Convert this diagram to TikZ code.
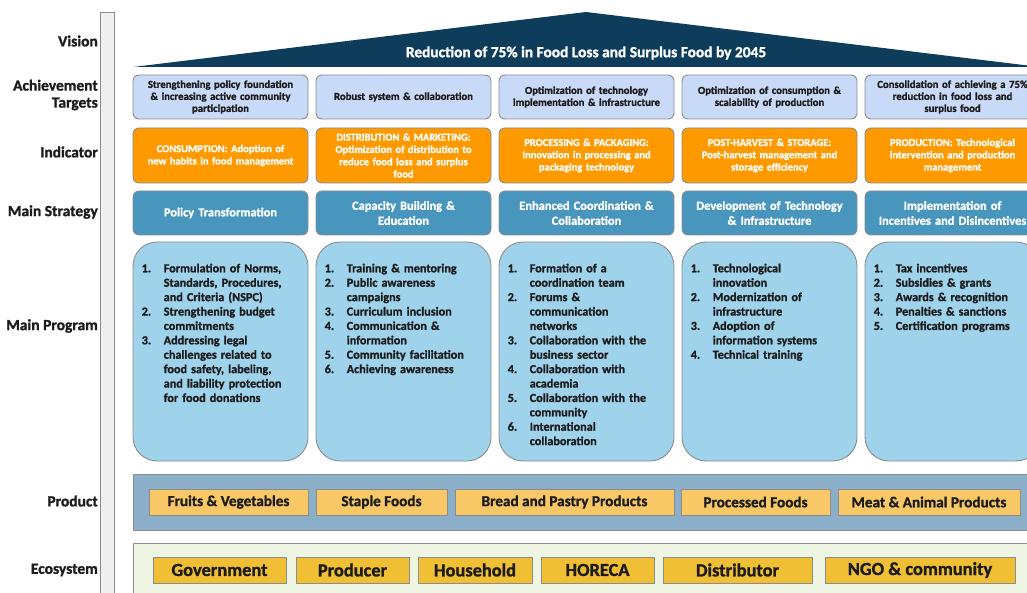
\documentclass[tikz,border=0pt]{standalone}
\usepackage{fontspec}
\setmainfont{Carlito}[BoldFeatures={FakeBold=1.3}]
\usetikzlibrary{positioning}
\definecolor{roofnavy}{HTML}{0E3D5C}
\definecolor{targetblue}{HTML}{C9DAF8}
\definecolor{indorange}{HTML}{FF9900}
\definecolor{stratblue}{HTML}{4896BE}
\definecolor{progblue}{HTML}{9FD3EC}
\definecolor{prodband}{HTML}{8BAFC9}
\definecolor{prodyellow}{HTML}{F9C866}
\definecolor{ecoband}{HTML}{EEF5E3}
\definecolor{ecoyellow}{HTML}{F1BF33}
\definecolor{barg}{HTML}{EFEFEF}
\definecolor{edgeg}{HTML}{8C8C8C}
\definecolor{inkdark}{HTML}{1C1C1C}
\tikzset{
  lbl/.style={anchor=east, align=right, inner sep=0pt, text=inkdark,
    font=\fontsize{15.5}{17}\selectfont\bfseries},
  target/.style={draw=edgeg, fill=targetblue, rounded corners=6pt, line width=0.9pt,
    minimum width=175pt, minimum height=44pt, text width=172pt, align=center,
    inner sep=0pt, text=inkdark, font=\fontsize{10.7}{12}\selectfont\bfseries},
  indic/.style={target, fill=indorange, minimum height=55pt, text=white,
    font=\fontsize{10.5}{12.3}\selectfont\bfseries},
  strat/.style={target, fill=stratblue, text=white,
    font=\fontsize{12.4}{15}\selectfont\bfseries},
  progbox/.style={draw=edgeg, fill=progblue, rounded corners=24pt, line width=0.9pt,
    minimum width=175pt, minimum height=219pt, inner sep=0pt},
  progtext/.style={anchor=north west, inner sep=0pt, text width=160pt, align=left,
    text=inkdark, font=\fontsize{12.2}{14.4}\selectfont\bfseries},
  prod/.style={draw=edgeg, fill=prodyellow, line width=0.9pt, minimum height=26pt,
    inner sep=0pt, text=inkdark, font=\fontsize{15.2}{16}\selectfont\bfseries},
  eco/.style={prod, fill=ecoyellow, font=\fontsize{18.4}{19}\selectfont\bfseries},
}
\newcommand{\pitem}[2]{\noindent\hangindent=22pt\hangafter=1\makebox[22pt][l]{#1.}#2\par}

\begin{document}
\begin{tikzpicture}[x=1pt,y=-1pt]
  \useasboundingbox (0,0) rectangle (1027,593);
  \clip (0,0) rectangle (1027,593);

  % side bar and row labels
  \draw[fill=barg, draw=edgeg, line width=0.9pt] (100,12) rectangle (114,600);
  \node[lbl] (lvision)   at (98,41)  {Vision};
  \node[lbl] (ltargets)  at (98,95)  {Achievement\\Targets};
  \node[lbl] (lindic)    at (98,152) {Indicator};
  \node[lbl] (lstrat)    at (98,212) {Main Strategy};
  \node[lbl] (lprog)     at (98,326) {Main Program};
  \node[lbl] (lprod)     at (98,501) {Product};
  \node[lbl] (leco)      at (98,570) {Ecosystem};

  % roof
  \fill[roofnavy] (133,67) -- (586,12) -- (1040,67) -- cycle;
  \node[text=white, font=\fontsize{15.4}{17}\selectfont\bfseries] (vision) at (586,53)
    {Reduction of 75\% in Food Loss and Surplus Food by 2045};

  % achievement targets
  \node[target] (t1) at (220.5,97) {Strengthening policy foundation\\ \& increasing active community\\ participation};
  \node[target] (t2) at (403.5,97) {Robust system \& collaboration};
  \node[target] (t3) at (586.5,97) {Optimization of technology\\ implementation \& infrastructure};
  \node[target] (t4) at (769.5,97) {Optimization of consumption \&\\ scalability of production};
  \node[target] (t5) at (952.5,97) {Consolidation of achieving a 75\%\\ reduction in food loss and\\ surplus food};

  % indicators
  \node[indic] (i1) at (220.5,155.5) {CONSUMPTION: Adoption of\\ new habits in food management};
  \node[indic] (i2) at (403.5,155.5) {DISTRIBUTION \& MARKETING:\\ Optimization of distribution to\\ reduce food loss and surplus\\ food};
  \node[indic] (i3) at (586.5,155.5) {PROCESSING \& PACKAGING:\\ Innovation in processing and\\ packaging technology};
  \node[indic] (i4) at (769.5,155.5) {POST-HARVEST \& STORAGE:\\ Post-harvest management and\\ storage efficiency};
  \node[indic] (i5) at (952.5,155.5) {PRODUCTION: Technological\\ intervention and production\\ management};

  % main strategy
  \node[strat] (s1) at (220.5,213) {Policy Transformation};
  \node[strat] (s2) at (403.5,213) {Capacity Building \&\\ Education};
  \node[strat] (s3) at (586.5,213) {Enhanced Coordination \&\\ Collaboration};
  \node[strat] (s4) at (769.5,213) {Development of Technology\\ \& Infrastructure};
  \node[strat] (s5) at (952.5,213) {Implementation of\\ Incentives and Disincentives};

  % main program
  \node[progbox] (g1) at (220.5,351.5) {};
  \node[progbox] (g2) at (403.5,351.5) {};
  \node[progbox] (g3) at (586.5,351.5) {};
  \node[progbox] (g4) at (769.5,351.5) {};
  \node[progbox] (g5) at (952.5,351.5) {};
  \node[progtext] (pl1) at ([xshift=9pt,yshift=-22pt]g1.north west)
    {\pitem{1}{Formulation of Norms,\newline Standards, Procedures,\newline and Criteria (NSPC)}
     \pitem{2}{Strengthening budget\newline commitments}
     \pitem{3}{Addressing legal\newline challenges related to\newline food safety, labeling,\newline and liability protection\newline for food donations}};
  \node[progtext] (pl2) at ([xshift=9pt,yshift=-22pt]g2.north west)
    {\pitem{1}{Training \& mentoring}
     \pitem{2}{Public awareness\newline campaigns}
     \pitem{3}{Curriculum inclusion}
     \pitem{4}{Communication \&\newline information}
     \pitem{5}{Community facilitation}
     \pitem{6}{Achieving awareness}};
  \node[progtext] (pl3) at ([xshift=9pt,yshift=-22pt]g3.north west)
    {\pitem{1}{Formation of a\newline coordination team}
     \pitem{2}{Forums \&\newline communication\newline networks}
     \pitem{3}{Collaboration with the\newline business sector}
     \pitem{4}{Collaboration with\newline academia}
     \pitem{5}{Collaboration with the\newline community}
     \pitem{6}{International\newline collaboration}};
  \node[progtext] (pl4) at ([xshift=9pt,yshift=-22pt]g4.north west)
    {\pitem{1}{Technological\newline innovation}
     \pitem{2}{Modernization of\newline infrastructure}
     \pitem{3}{Adoption of\newline information systems}
     \pitem{4}{Technical training}};
  \node[progtext] (pl5) at ([xshift=9pt,yshift=-22pt]g5.north west)
    {\pitem{1}{Tax incentives}
     \pitem{2}{Subsidies \& grants}
     \pitem{3}{Awards \& recognition}
     \pitem{4}{Penalties \& sanctions}
     \pitem{5}{Certification programs}};

  % product band
  \draw[fill=prodband, draw=edgeg, line width=0.9pt] (133,474) rectangle (1040,530);
  \node[prod, minimum width=159pt] (p1) at (228.5,502) {Fruits \& Vegetables};
  \node[prod, minimum width=131pt] (p2) at (381.5,502) {Staple Foods};
  \node[prod, minimum width=219pt] (p3) at (564.5,502) {Bread and Pastry Products};
  \node[prod, minimum width=149pt] (p4) at (755.5,502) {Processed Foods};
  \node[prod, minimum width=182pt] (p5) at (929,502)   {Meat \& Animal Products};

  % ecosystem band
  \draw[fill=ecoband, draw=edgeg, line width=0.9pt] (133,543) rectangle (1040,600);
  \node[eco, minimum width=133pt] (e1) at (219.5,570) {Government};
  \node[eco, minimum width=113pt] (e2) at (352.5,570) {Producer};
  \node[eco, minimum width=114pt] (e3) at (475,570)   {Household};
  \node[eco, minimum width=113pt] (e4) at (597.5,570) {HORECA};
  \node[eco, minimum width=149pt] (e5) at (737.5,570) {Distributor};
  \node[eco, minimum width=190pt] (e6) at (920,570)   {NGO \& community};
\end{tikzpicture}
\end{document}
